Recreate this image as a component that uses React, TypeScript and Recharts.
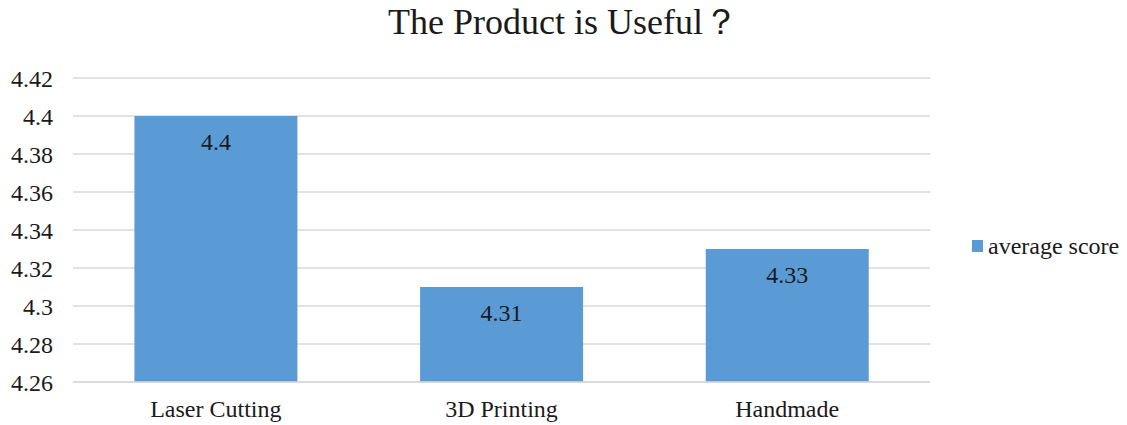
import React from "react";
import { BarChart, Bar, XAxis, YAxis, CartesianGrid, LabelList } from "recharts";

const categories = ["Laser Cutting", "3D Printing", "Handmade"];
const averageScore = [4.4, 4.31, 4.33];
const yTicks = [4.26, 4.28, 4.3, 4.32, 4.34, 4.36, 4.38, 4.4, 4.42];
const seriesName = "average score";
const title = "The Product is Useful？";

const data = categories.map((c, i) => ({ name: c, value: averageScore[i] }));

const FONT = "'Liberation Serif', 'Times New Roman', serif";
const BAR = "#5B9BD5";
const TEXT = "#1a1a1a";

export default function App() {
  return (
    <div style={{ position: "absolute", left: 0, top: 0, width: 1127, height: 425, background: "#fff", fontFamily: FONT }}>
      <div style={{ position: "absolute", left: 0, top: 1, width: 1127, textAlign: "center", fontSize: 36, color: TEXT, lineHeight: "42px" }}>
        {title}
      </div>
      <BarChart
        width={1127}
        height={425}
        data={data}
        margin={{ top: 78, right: 197, bottom: 0, left: 0 }}
        barCategoryGap="21.5%"
      >
        <CartesianGrid vertical={false} stroke="#d9d9d9" strokeWidth={1.5} />
        <XAxis
          dataKey="name"
          height={43}
          tickLine={false}
          axisLine={{ stroke: "#d9d9d9", strokeWidth: 1.5 }}
          tickSize={0}
          tickMargin={18}
          tick={{ fill: TEXT, fontSize: 24, fontFamily: FONT }}
        />
        <YAxis
          width={73}
          domain={[4.26, 4.42]}
          ticks={yTicks}
          axisLine={false}
          tickLine={false}
          tickSize={0}
          tickMargin={20}
          tick={{ fill: TEXT, fontSize: 24, fontFamily: FONT }}
        />
        <Bar dataKey="value" name={seriesName} fill={BAR} isAnimationActive={false}>
          <LabelList dataKey="value" position="insideTop" offset={17} fill={TEXT} fontSize={24} fontFamily={FONT} />
        </Bar>
      </BarChart>
      <div style={{ position: "absolute", left: 972, top: 232, display: "flex", alignItems: "center", fontSize: 24, color: TEXT, lineHeight: "28px" }}>
        <span style={{ display: "inline-block", width: 11, height: 12, background: BAR, marginRight: 5 }} />
        <span>{seriesName}</span>
      </div>
    </div>
  );
}
